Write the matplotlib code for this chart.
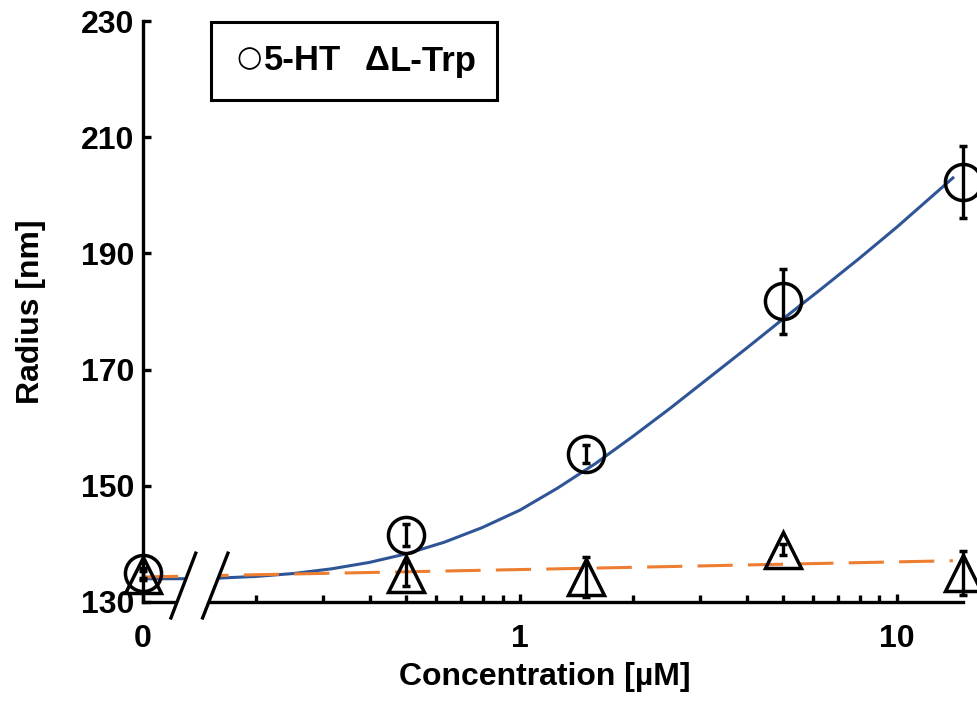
import matplotlib
matplotlib.use("Agg")
import matplotlib.pyplot as plt
from matplotlib.patches import Polygon, Rectangle
from matplotlib.ticker import FixedLocator, FixedFormatter, NullFormatter

plt.rcParams['font.family'] = ['Liberation Sans', 'DejaVu Sans']
plt.rcParams['font.weight'] = 'bold'

# concentration 0 is drawn at the left end of the log axis (0.1)
conc = [0.1, 0.5, 1.5, 5, 15]

ht_radius = [135.0, 141.5, 155.5, 181.8, 202.3]
ht_err = [0.8, 1.9, 1.6, 5.6, 6.2]

trp_radius = [134.6, 134.8, 134.3, 139.0, 135.0]
trp_err = [0.8, 2.0, 3.4, 1.0, 3.8]

# fitted curves
fit_ht_x = [0.1, 0.126, 0.158, 0.2, 0.251, 0.316, 0.398, 0.501, 0.631, 0.794, 1.0,
            1.259, 1.585, 1.995, 2.512, 3.162, 3.981, 5.012, 6.31, 7.943, 10.0, 14.1]
fit_ht_y = [134.0, 134.0, 134.1, 134.4, 134.9, 135.7, 136.8, 138.3, 140.3, 142.8, 145.8,
            149.6, 153.8, 158.5, 163.4, 168.5, 173.6, 178.8, 183.9, 189.1, 194.5, 203.0]
fit_trp_x = [0.1, 0.5, 1.5, 5, 14.1]
fit_trp_y = [134.3, 135.2, 135.8, 136.5, 137.1]

yticks = [130, 150, 170, 190, 210, 230]
xticks = [0.1, 1, 10]
xticklabels = ['0', '1', '10']

fig = plt.figure(figsize=(9.77, 7.02), dpi=100)
ax = fig.add_axes([0.1464, 0.1425, 0.8393, 0.8275])

ax.plot(fit_ht_x, fit_ht_y, color='#2f5597', lw=2.2, zorder=2)
ax.plot(fit_trp_x, fit_trp_y, color='#ed7d31', lw=2.2, dashes=(11.5, 5), zorder=2)

ax.errorbar(conc, ht_radius, yerr=ht_err, fmt='o', ms=26, mfc='none', mec='black', mew=2.5,
            ecolor='black', elinewidth=2.4, capsize=3, capthick=2.4, clip_on=False, zorder=3)
ax.errorbar(conc, trp_radius, yerr=trp_err, fmt='^', ms=26, mfc='none', mec='black', mew=2.5,
            ecolor='black', elinewidth=2.4, capsize=3, capthick=2.4, clip_on=False, zorder=3)

ax.set_xscale('log')
ax.set_xlim(0.1, 15)
ax.set_ylim(130, 230)
ax.set_yticks(yticks)
ax.xaxis.set_major_locator(FixedLocator(xticks))
ax.xaxis.set_major_formatter(FixedFormatter(xticklabels))
ax.xaxis.set_minor_locator(FixedLocator([0.2, 0.3, 0.4, 0.5, 0.6, 0.7, 0.8, 0.9,
                                         2, 3, 4, 5, 6, 7, 8, 9]))
ax.xaxis.set_minor_formatter(NullFormatter())

for s in ['top', 'right']:
    ax.spines[s].set_visible(False)
for s in ['left', 'bottom']:
    ax.spines[s].set_linewidth(2.4)

ax.tick_params(axis='both', which='major', direction='in', length=6, width=2.4, labelsize=23)
ax.tick_params(axis='y', which='major', pad=6)
ax.tick_params(axis='x', which='major', pad=16)
ax.tick_params(axis='x', which='minor', direction='in', length=5, width=2.4)
for lab in ax.get_xticklabels() + ax.get_yticklabels():
    lab.set_fontweight('bold')

# axis break
brk = Polygon([(0.1186, 127.25), (0.138, 138.4), (0.168, 138.4), (0.1439, 127.25)],
              closed=True, fc='white', ec='none', clip_on=False, zorder=4)
ax.add_patch(brk)
ax.plot([0.1186, 0.138], [127.25, 138.4], color='black', lw=2.4, clip_on=False, zorder=5)
ax.plot([0.1439, 0.168], [127.25, 138.4], color='black', lw=2.4, clip_on=False, zorder=5)

ax.set_xlabel('Concentration [µM]', fontsize=23, fontweight='bold')
ax.set_ylabel('Radius [nm]', fontsize=23, fontweight='bold')
ax.xaxis.set_label_coords(0.490, -0.104)
ax.yaxis.set_label_coords(-0.118, 0.5)

# legend box drawn as text
fig.patches.append(Rectangle((211 / 977, 1 - 100 / 702), 286 / 977, 78 / 702,
                             transform=fig.transFigure, fc='white', ec='black', lw=2.2))
ly = 1 - 61 / 702
fig.text(236 / 977, ly + 3 / 702, '○', fontsize=21, fontweight='bold', family='DejaVu Sans',
         ha='left', va='center')
fig.text(264 / 977, ly, '5-HT', fontsize=25, fontweight='bold', ha='left', va='center')
fig.text(365 / 977, ly, 'Δ', fontsize=25, fontweight='bold', ha='left', va='center')
fig.text(390 / 977, ly, 'L-Trp', fontsize=25, fontweight='bold', ha='left', va='center')

fig.savefig('out.png', dpi=100)
